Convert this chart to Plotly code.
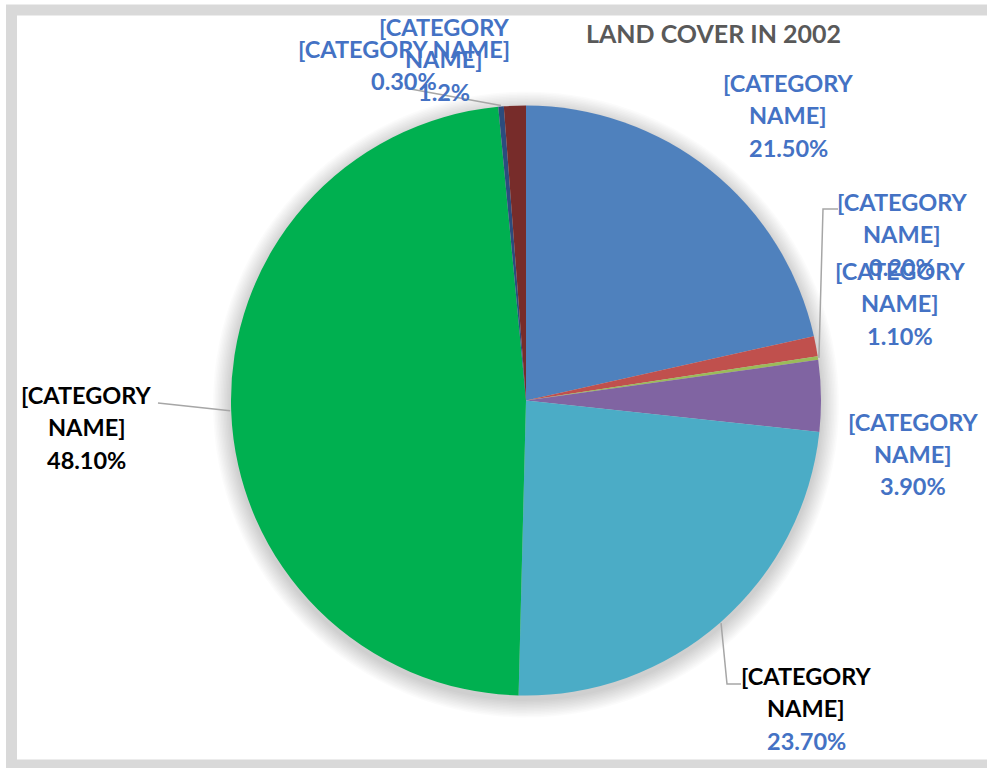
import math
import plotly.graph_objects as go

# ---- data -------------------------------------------------------------
title = "LAND COVER IN 2002"
categories = ["[CATEGORY NAME]"] * 8
values = [21.5, 1.1, 0.2, 3.9, 23.7, 48.1, 0.3, 1.2]
decimals = [2, 2, 2, 2, 2, 2, 2, 1]
slice_colors = ["#4F81BD", "#C0504D", "#9BBB59", "#8064A2",
                "#4BACC6", "#00B050", "#2B4C7E", "#772C2A"]

# ---- canvas / geometry (pixels) ----------------------------------------
W, H = 987, 768
CX, CY, R = 526.0, 400.5, 295.0
BLUE, BLACK, GREY = "#4472C4", "#000000", "#A6A6A6"
FONT = "Lato"
FS = 23.5
LINE_GAP = 32.3


def px(x):
    return x / W


def py(y):
    return 1 - y / H


def edge_point(i, extra=0.0):
    """Point on the rim at the middle angle of slice i (clockwise from 12 o'clock)."""
    total = sum(values)
    start = sum(values[:i])
    ang = 2 * math.pi * (start + values[i] / 2) / total
    r = R + extra
    return CX + r * math.sin(ang), CY - r * math.cos(ang)


# label layout: centre x, y of first line, wrap, line colours, leader elbow
label_layout = [
    dict(x=788, y=83, wrap=True, colors=[BLUE] * 3, leader=None),
    dict(x=900, y=271, wrap=True, colors=[BLUE] * 3, leader=None),
    dict(x=902, y=202, wrap=True, colors=[BLUE] * 3, leader=[(823, 209), (838, 209)]),
    dict(x=913, y=421.5, wrap=True, colors=[BLUE] * 3, leader=None),
    dict(x=806, y=676, wrap=True, colors=[BLACK, BLACK, BLUE], leader=[(727, 684), (741, 684)]),
    dict(x=86.5, y=395, wrap=True, colors=[BLACK] * 3, leader=[(158, 403)]),
    dict(x=404, y=49, wrap=False, colors=[BLUE] * 2, leader=[(405, 88)]),
    dict(x=444, y=27, wrap=True, colors=[BLUE] * 3, leader=None),
]

fig = go.Figure()

fig.add_trace(go.Pie(
    labels=[str(i) for i in range(len(values))],
    values=values,
    sort=False,
    direction="clockwise",
    rotation=0,
    marker=dict(colors=slice_colors, line=dict(width=0)),
    textinfo="none",
    hoverinfo="skip",
    showlegend=False,
    domain=dict(x=[px(CX - R), px(CX + R)], y=[py(CY + R), py(CY - R)]),
))

shapes = []

# soft drop shadow under the pie
for k in range(1, 13):
    r = R + 1.5 * k
    cy = CY + 4
    shapes.append(dict(
        type="circle", xref="paper", yref="paper", layer="below",
        x0=px(CX - r), x1=px(CX + r), y0=py(cy + r), y1=py(cy - r),
        fillcolor="rgba(0,0,0,0.014)", line=dict(width=0),
    ))

# chart frame
shapes.append(dict(
    type="rect", xref="paper", yref="paper", layer="below",
    x0=px(11.5), x1=px(1000), y0=py(765), y1=py(10),
    line=dict(color="#D9D9D9", width=11), fillcolor="rgba(0,0,0,0)",
))

annotations = []
for i, lay in enumerate(label_layout):
    pct = f"{values[i]:.{decimals[i]}f}%"
    if lay["wrap"]:
        first, second = categories[i].split(" ")
        lines = [first, second, pct]
    else:
        lines = [categories[i], pct]
    for j, (txt, col) in enumerate(zip(lines, lay["colors"])):
        annotations.append(dict(
            x=px(lay["x"]), y=py(lay["y"] + j * LINE_GAP),
            xref="paper", yref="paper", xanchor="center", yanchor="middle",
            text=txt, showarrow=False,
            font=dict(family=FONT, size=FS, color=col, weight="bold"),
        ))
    if lay["leader"]:
        sx, sy = edge_point(i, extra=1)
        pts = [(sx, sy)] + lay["leader"]
        path = "M " + " L ".join(f"{px(x)},{py(y)}" for x, y in pts)
        shapes.append(dict(
            type="path", xref="paper", yref="paper", path=path,
            line=dict(color=GREY, width=1.5),
        ))

annotations.append(dict(
    x=px(713), y=py(33), xref="paper", yref="paper",
    xanchor="center", yanchor="middle", text=title, showarrow=False,
    font=dict(family=FONT, size=25, color="#595959", weight="bold"),
))

fig.update_layout(
    width=W, height=H,
    margin=dict(l=0, r=0, t=0, b=0),
    paper_bgcolor="white", plot_bgcolor="white",
    shapes=shapes, annotations=annotations,
)

fig.write_html("out.html")
